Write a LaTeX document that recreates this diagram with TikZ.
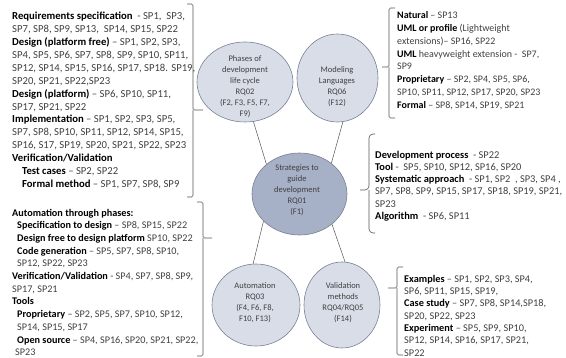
\documentclass[tikz,border=0pt]{standalone}
\usepackage{fontspec}
\usepackage{array}
\setmainfont{Carlito}
\usetikzlibrary{shapes.geometric}
\definecolor{txtgray}{RGB}{64,64,64}
\definecolor{lightfill}{RGB}{216,221,232}
\definecolor{darkfill}{RGB}{166,176,198}
\definecolor{rim}{RGB}{120,128,145}
\definecolor{linegray}{RGB}{85,85,85}
\newlength{\lsk}
\newcolumntype{L}{@{}>{\rule[-0.3\lsk]{0pt}{\lsk}}l@{}}
\newcolumntype{C}{@{}>{\rule[-0.3\lsk]{0pt}{\lsk}}c@{}}
\newcommand{\lab}[1]{\textbf{\color{black}#1}}
\newcommand{\blk}[1]{{\renewcommand{\arraystretch}{0}\begin{tabular}{L}#1\end{tabular}}}
\newcommand{\ctr}[1]{{\renewcommand{\arraystretch}{0}\begin{tabular}{C}#1\end{tabular}}}
\begin{document}
\begin{tikzpicture}[x=1pt,y=-1pt,
  block/.style={anchor=north west,inner sep=0pt,text=txtgray},
  bubble/.style={ellipse,draw=rim,line width=0.6pt,fill=lightfill,inner sep=0pt},
  bubbletext/.style={inner sep=0pt,text=txtgray,font=\fontsize{8.5}{10.9}\selectfont\setlength{\lsk}{10.9pt}},
  brk/.style={draw=linegray,line width=0.6pt,rounded corners=1.5pt},
  link/.style={draw=linegray,line width=0.5pt}]
\useasboundingbox (0,0) rectangle (566,358);

% ellipses
\node[bubble,minimum width=96pt,minimum height=80pt] (phases) at (245,82) {};
\node[bubbletext] (phasesT) at (245,87) {\ctr{Phases of\\development\\life cycle\\RQ02\\(F2, F3, F5, F7,\\F9)}};
\node[bubble,minimum width=81pt,minimum height=88pt] (model) at (337.5,78) {};
\node[bubbletext] (modelT) at (337,87) {\ctr{Modeling\\Languages\\RQ06\\(F12)}};
\node[bubble,fill=darkfill,minimum width=95pt,minimum height=82pt] (central) at (299.5,194) {};
\node[bubbletext] (centralT) at (297,190.5) {\ctr{Strategies to\\guide\\development\\RQ01\\(F1)}};
\node[bubble,minimum width=88pt,minimum height=82pt] (auto) at (256,305) {};
\node[bubbletext] (autoT) at (255,303) {\ctr{Automation\\RQ03\\(F4, F6, F8,\\F10, F13)}};
\node[bubble,minimum width=76pt,minimum height=86pt] (valid) at (342,305) {};
\node[bubbletext] (validT) at (343,303) {\ctr{Validation\\methods\\RQ04/RQ05\\(F14)}};

% connectors
\draw[link] (phases.-78) -- (central.138);
\draw[link] (model.-83) -- (central.44);
\draw[link] (central.217) -- (auto.94);
\draw[link] (central.-43) -- (valid.86);

% text blocks
\node[block,font=\fontsize{10.7}{12.9}\selectfont\setlength{\lsk}{12.9pt}] (tl) at (12,10.5) {\blk{%
\lab{Requirements specification}~ - SP1,~ SP3,\\
SP7, SP8, SP9, SP13,~ SP14, SP15, SP22\\
\lab{Design (platform free)} – SP1, SP2, SP3,\\
SP4, SP5, SP6, SP7, SP8, SP9, SP10, SP11,\\
SP12, SP14, SP15, SP16, SP17, SP18. SP19,\\
SP20, SP21, SP22,SP23\\
\lab{Design (platform)} – SP6, SP10, SP11,\\
SP17, SP21, SP22\\
\lab{Implementation} – SP1, SP2, SP3, SP5,\\
SP7, SP8, SP10, SP11, SP12, SP14, SP15,\\
SP16, S17, SP19, SP20, SP21, SP22, SP23\\
\lab{Verification/Validation}\\
\hspace*{10pt}\lab{Test cases} – SP2, SP22\\
\hspace*{10pt}\lab{Formal method} – SP1, SP7, SP8, SP9}};

\node[block,font=\fontsize{10.2}{12.7}\selectfont\setlength{\lsk}{12.7pt}] (bl) at (12,207) {\blk{%
\lab{Automation through phases:}\\
\hspace*{5pt}\lab{Specification to design} – SP8, SP15, SP22\\
\hspace*{5pt}\lab{Design free to design platform} SP10, SP22\\
\hspace*{5pt}\lab{Code generation} – SP5, SP7, SP8, SP10,\\
\hspace*{5pt}SP12, SP22, SP23\\
\lab{Verification/Validation} - SP4, SP7, SP8, SP9,\\
SP17, SP21\\
\lab{Tools}\\
\hspace*{5pt}\lab{Proprietary} – SP2, SP5, SP7, SP10, SP12,\\
\hspace*{5pt}SP14, SP15, SP17\\
\hspace*{5pt}\lab{Open source} – SP4, SP16, SP20, SP21, SP22,\\
\hspace*{3pt}SP23}};

\node[block,font=\fontsize{10}{12.8}\selectfont\setlength{\lsk}{12.8pt}] (tr) at (397,9.5) {\blk{%
\lab{Natural} – SP13\\
\lab{UML or profile} (Lightweight\\
extensions)– SP16, SP22\\
\lab{UML} heavyweight extension -~ SP7,\\
SP9\\
\lab{Proprietary} – SP2, SP4, SP5, SP6,\\
SP10, SP11, SP12, SP17, SP20, SP23\\
\lab{Formal} – SP8, SP14, SP19, SP21}};

\node[block,font=\fontsize{10.4}{12.2}\selectfont\setlength{\lsk}{12.2pt}] (mr) at (375,149.5) {\blk{%
\lab{Development process}~ - SP22\\
\lab{Tool} -~ SP5, SP10, SP12, SP16, SP20\\
\lab{Systematic approach}~ - SP1, SP2~ , SP3, SP4 ,\\
SP7, SP8, SP9, SP15, SP17, SP18, SP19, SP21,\\
SP23\\
\lab{Algorithm}~ - SP6, SP11}};

\node[block,font=\fontsize{10.3}{12.3}\selectfont\setlength{\lsk}{12.3pt}] (br) at (404,273.5) {\blk{%
\lab{Examples} – SP1, SP2, SP3, SP4,\\
SP6, SP11, SP15, SP19,\\
\lab{Case study} – SP7, SP8, SP14,SP18,\\
SP20, SP22, SP23\\
\lab{Experiment} – SP5, SP9, SP10,\\
SP12, SP14, SP16, SP17, SP21,\\
SP22}};

% brackets
\draw[brk] (187,4) -- (193,4) -- (193,110) -- (203,110);
\draw[brk] (193,110) -- (193,197) -- (187,197);
\draw[brk] (197,202) -- (203,202) -- (203,238) -- (212,238);
\draw[brk] (203,238) -- (203,356) -- (197,356);
\draw[brk] (395,8) -- (389,8) -- (389,67) -- (382,67);
\draw[brk] (389,67) -- (389,118) -- (395,118);
\draw[brk,rounded corners=4pt] (375,134) -- (369,134) -- (369,190) -- (360,190);
\draw[brk,rounded corners=4pt] (369,190) -- (369,233) -- (375,233);
\draw[brk] (403,267) -- (397,267) -- (397,288) -- (388,288);
\draw[brk] (397,288) -- (397,355) -- (403,355);
\end{tikzpicture}
\end{document}
